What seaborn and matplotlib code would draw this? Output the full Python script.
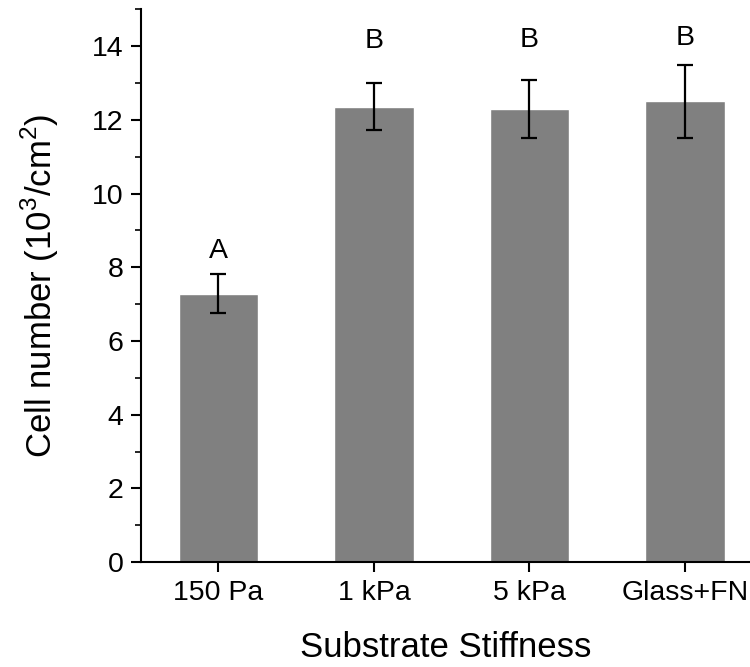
#!/usr/bin/python3

import matplotlib.pyplot as plt
import numpy as np
import pandas as pd
import seaborn as sns
from matplotlib.ticker import MultipleLocator

# values
substrates = ['150 Pa', '1 kPa', '5 kPa', 'Glass+FN']
cell_number = [7.28, 12.36, 12.30, 12.50]
cell_err = [0.53, 0.64, 0.79, 0.98]
groups = ['A', 'B', 'B', 'B']
group_y = [8.26, 13.95, 13.97, 14.03]

df = pd.DataFrame({'substrate': substrates, 'cells': cell_number})

sns.set_style('ticks')
plt.rcParams['font.family'] = ['Liberation Sans', 'DejaVu Sans']
plt.rcParams['mathtext.fontset'] = 'custom'
plt.rcParams['mathtext.rm'] = 'Liberation Sans'
plt.rcParams['text.color'] = 'black'
plt.rcParams['axes.labelcolor'] = 'black'
plt.rcParams['xtick.color'] = 'black'
plt.rcParams['ytick.color'] = 'black'
plt.rcParams['axes.edgecolor'] = 'black'

fig = plt.figure(figsize=(7.5, 6.67), dpi=100)
ax = fig.add_axes([0.1876, 0.1571, 0.8128, 0.829])

sns.barplot(data=df, x='substrate', y='cells', color='#808080', saturation=1,
            width=0.51, errorbar=None, ax=ax)
x = np.arange(len(substrates))
ax.errorbar(x, cell_number, yerr=cell_err, fmt='none', ecolor='black',
            elinewidth=1.6, capsize=6, capthick=1.6)

for xi, g, gy in zip(x, groups, group_y):
    ax.text(xi, gy, g, ha='center', va='baseline', fontsize=20.5)

ax.set_xlim(-0.5, 3.42)
ax.set_ylim(0, 15)
ax.yaxis.set_major_locator(MultipleLocator(2))
ax.yaxis.set_minor_locator(MultipleLocator(1))

for side in ['top', 'right']:
    ax.spines[side].set_visible(False)
for side in ['left', 'bottom']:
    ax.spines[side].set_linewidth(1.5)

ax.tick_params(axis='both', which='major', direction='out', length=7.5,
               width=1.5, labelsize=20.5, pad=5)
ax.tick_params(axis='y', which='minor', direction='out', length=4,
               width=1.2)

ax.set_xlabel('Substrate Stiffness', fontsize=25, labelpad=18)
ax.set_ylabel(r'Cell number (10$^3$/cm$^2$)', fontsize=25, labelpad=22)

plt.savefig('out.png', dpi=100)
plt.close()
